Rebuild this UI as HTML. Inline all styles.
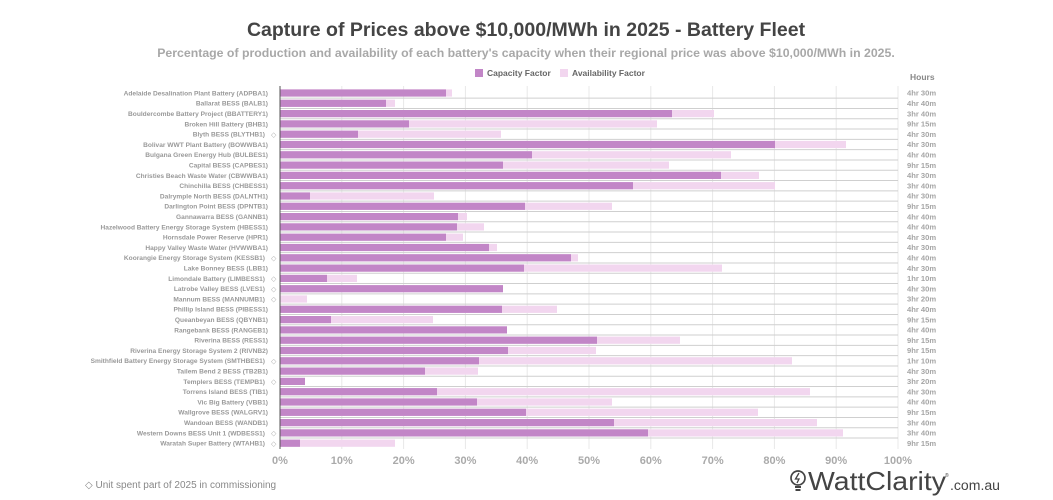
<!DOCTYPE html>
<html><head><meta charset="utf-8"><style>
body{margin:0;background:#fff;}
svg{display:block;font-family:"Liberation Sans",sans-serif;}
.l{font-size:6.6px;fill:#999;font-weight:bold;text-anchor:end}
.h{font-size:7.6px;fill:#a5a5a5;font-weight:bold}
.cf{fill:#c286c7}.af{fill:#f2d6ef}
.sep{stroke:#cfcfcf;stroke-width:1}
.d{font-size:7px;fill:#aaa}
</style></head><body>
<svg width="1053" height="500" viewBox="0 0 1053 500">
<text x="526" y="36" text-anchor="middle" font-size="19.5" font-weight="bold" fill="#444">Capture of Prices above $10,000/MWh in 2025 - Battery Fleet</text>
<text x="526" y="57" text-anchor="middle" font-size="12.3" font-weight="bold" fill="#a8a8a8">Percentage of production and availability of each battery's capacity when their regional price was above $10,000/MWh in 2025.</text>
<rect x="475" y="69" width="8" height="8" class="cf"/><text x="487" y="76" font-size="8.5" font-weight="bold" fill="#666">Capacity Factor</text>
<rect x="560" y="69" width="8" height="8" class="af"/><text x="572" y="76" font-size="8.5" font-weight="bold" fill="#666">Availability Factor</text>
<text x="910" y="80" font-size="8.5" font-weight="bold" fill="#888">Hours</text>
<g stroke="#e8e8e8" stroke-width="1">
<line x1="341.8" y1="86" x2="341.8" y2="449"/><line x1="403.6" y1="86" x2="403.6" y2="449"/><line x1="465.4" y1="86" x2="465.4" y2="449"/><line x1="527.2" y1="86" x2="527.2" y2="449"/><line x1="589" y1="86" x2="589" y2="449"/><line x1="650.8" y1="86" x2="650.8" y2="449"/><line x1="712.6" y1="86" x2="712.6" y2="449"/><line x1="774.4" y1="86" x2="774.4" y2="449"/><line x1="836.2" y1="86" x2="836.2" y2="449"/><line x1="898" y1="86" x2="898" y2="449"/>
</g>
<g id="rows">
<g transform="translate(0,93)"><rect x="280" y="-3.6" width="172" height="7.2" class="af"/><rect x="280" y="-3.6" width="166" height="7.2" class="cf"/><line x1="280" y1="5.15" x2="898" y2="5.15" class="sep"/><text x="268" y="2.4" class="l">Adelaide Desalination Plant Battery (ADPBA1)</text><text x="907" y="2.7" class="h">4hr 30m</text></g>
<g transform="translate(0,103.3)"><rect x="280" y="-3.6" width="115" height="7.2" class="af"/><rect x="280" y="-3.6" width="106" height="7.2" class="cf"/><line x1="280" y1="5.15" x2="898" y2="5.15" class="sep"/><text x="268" y="2.4" class="l">Ballarat BESS (BALB1)</text><text x="907" y="2.7" class="h">4hr 40m</text></g>
<g transform="translate(0,113.6)"><rect x="280" y="-3.6" width="434" height="7.2" class="af"/><rect x="280" y="-3.6" width="392" height="7.2" class="cf"/><line x1="280" y1="5.15" x2="898" y2="5.15" class="sep"/><text x="268" y="2.4" class="l">Bouldercombe Battery Project (BBATTERY1)</text><text x="907" y="2.7" class="h">3hr 40m</text></g>
<g transform="translate(0,123.9)"><rect x="280" y="-3.6" width="377" height="7.2" class="af"/><rect x="280" y="-3.6" width="129" height="7.2" class="cf"/><line x1="280" y1="5.15" x2="898" y2="5.15" class="sep"/><text x="268" y="2.4" class="l">Broken Hill Battery (BHB1)</text><text x="907" y="2.7" class="h">9hr 15m</text></g>
<g transform="translate(0,134.2)"><rect x="280" y="-3.6" width="221" height="7.2" class="af"/><rect x="280" y="-3.6" width="78" height="7.2" class="cf"/><line x1="280" y1="5.15" x2="898" y2="5.15" class="sep"/><text x="265" y="2.4" class="l">Blyth BESS (BLYTHB1)</text><text x="271" y="2.6" class="d">◇</text><text x="907" y="2.7" class="h">4hr 30m</text></g>
<g transform="translate(0,144.5)"><rect x="280" y="-3.6" width="566" height="7.2" class="af"/><rect x="280" y="-3.6" width="495" height="7.2" class="cf"/><line x1="280" y1="5.15" x2="898" y2="5.15" class="sep"/><text x="268" y="2.4" class="l">Bolivar WWT Plant Battery (BOWWBA1)</text><text x="907" y="2.7" class="h">4hr 30m</text></g>
<g transform="translate(0,154.8)"><rect x="280" y="-3.6" width="451" height="7.2" class="af"/><rect x="280" y="-3.6" width="252" height="7.2" class="cf"/><line x1="280" y1="5.15" x2="898" y2="5.15" class="sep"/><text x="268" y="2.4" class="l">Bulgana Green Energy Hub (BULBES1)</text><text x="907" y="2.7" class="h">4hr 40m</text></g>
<g transform="translate(0,165.1)"><rect x="280" y="-3.6" width="389" height="7.2" class="af"/><rect x="280" y="-3.6" width="223" height="7.2" class="cf"/><line x1="280" y1="5.15" x2="898" y2="5.15" class="sep"/><text x="268" y="2.4" class="l">Capital BESS (CAPBES1)</text><text x="907" y="2.7" class="h">9hr 15m</text></g>
<g transform="translate(0,175.4)"><rect x="280" y="-3.6" width="479" height="7.2" class="af"/><rect x="280" y="-3.6" width="441" height="7.2" class="cf"/><line x1="280" y1="5.15" x2="898" y2="5.15" class="sep"/><text x="268" y="2.4" class="l">Christies Beach Waste Water (CBWWBA1)</text><text x="907" y="2.7" class="h">4hr 30m</text></g>
<g transform="translate(0,185.7)"><rect x="280" y="-3.6" width="495" height="7.2" class="af"/><rect x="280" y="-3.6" width="353" height="7.2" class="cf"/><line x1="280" y1="5.15" x2="898" y2="5.15" class="sep"/><text x="268" y="2.4" class="l">Chinchilla BESS (CHBESS1)</text><text x="907" y="2.7" class="h">3hr 40m</text></g>
<g transform="translate(0,196)"><rect x="280" y="-3.6" width="154" height="7.2" class="af"/><rect x="280" y="-3.6" width="30" height="7.2" class="cf"/><line x1="280" y1="5.15" x2="898" y2="5.15" class="sep"/><text x="268" y="2.4" class="l">Dalrymple North BESS (DALNTH1)</text><text x="907" y="2.7" class="h">4hr 30m</text></g>
<g transform="translate(0,206.3)"><rect x="280" y="-3.6" width="332" height="7.2" class="af"/><rect x="280" y="-3.6" width="245" height="7.2" class="cf"/><line x1="280" y1="5.15" x2="898" y2="5.15" class="sep"/><text x="268" y="2.4" class="l">Darlington Point BESS (DPNTB1)</text><text x="907" y="2.7" class="h">9hr 15m</text></g>
<g transform="translate(0,216.6)"><rect x="280" y="-3.6" width="187" height="7.2" class="af"/><rect x="280" y="-3.6" width="178" height="7.2" class="cf"/><line x1="280" y1="5.15" x2="898" y2="5.15" class="sep"/><text x="268" y="2.4" class="l">Gannawarra BESS (GANNB1)</text><text x="907" y="2.7" class="h">4hr 40m</text></g>
<g transform="translate(0,226.9)"><rect x="280" y="-3.6" width="204" height="7.2" class="af"/><rect x="280" y="-3.6" width="177" height="7.2" class="cf"/><line x1="280" y1="5.15" x2="898" y2="5.15" class="sep"/><text x="268" y="2.4" class="l">Hazelwood Battery Energy Storage System (HBESS1)</text><text x="907" y="2.7" class="h">4hr 40m</text></g>
<g transform="translate(0,237.2)"><rect x="280" y="-3.6" width="183" height="7.2" class="af"/><rect x="280" y="-3.6" width="166" height="7.2" class="cf"/><line x1="280" y1="5.15" x2="898" y2="5.15" class="sep"/><text x="268" y="2.4" class="l">Hornsdale Power Reserve (HPR1)</text><text x="907" y="2.7" class="h">4hr 30m</text></g>
<g transform="translate(0,247.5)"><rect x="280" y="-3.6" width="217" height="7.2" class="af"/><rect x="280" y="-3.6" width="209" height="7.2" class="cf"/><line x1="280" y1="5.15" x2="898" y2="5.15" class="sep"/><text x="268" y="2.4" class="l">Happy Valley Waste Water (HVWWBA1)</text><text x="907" y="2.7" class="h">4hr 30m</text></g>
<g transform="translate(0,257.8)"><rect x="280" y="-3.6" width="298" height="7.2" class="af"/><rect x="280" y="-3.6" width="291" height="7.2" class="cf"/><line x1="280" y1="5.15" x2="898" y2="5.15" class="sep"/><text x="265" y="2.4" class="l">Koorangie Energy Storage System (KESSB1)</text><text x="271" y="2.6" class="d">◇</text><text x="907" y="2.7" class="h">4hr 40m</text></g>
<g transform="translate(0,268.1)"><rect x="280" y="-3.6" width="442" height="7.2" class="af"/><rect x="280" y="-3.6" width="244" height="7.2" class="cf"/><line x1="280" y1="5.15" x2="898" y2="5.15" class="sep"/><text x="268" y="2.4" class="l">Lake Bonney BESS (LBB1)</text><text x="907" y="2.7" class="h">4hr 30m</text></g>
<g transform="translate(0,278.4)"><rect x="280" y="-3.6" width="77" height="7.2" class="af"/><rect x="280" y="-3.6" width="47" height="7.2" class="cf"/><line x1="280" y1="5.15" x2="898" y2="5.15" class="sep"/><text x="265" y="2.4" class="l">Limondale Battery (LIMBESS1)</text><text x="271" y="2.6" class="d">◇</text><text x="907" y="2.7" class="h">1hr 10m</text></g>
<g transform="translate(0,288.7)"><rect x="280" y="-3.6" width="223" height="7.2" class="cf"/><line x1="280" y1="5.15" x2="898" y2="5.15" class="sep"/><text x="265" y="2.4" class="l">Latrobe Valley BESS (LVES1)</text><text x="271" y="2.6" class="d">◇</text><text x="907" y="2.7" class="h">4hr 30m</text></g>
<g transform="translate(0,299)"><rect x="280" y="-3.6" width="27" height="7.2" class="af"/><line x1="280" y1="5.15" x2="898" y2="5.15" class="sep"/><text x="265" y="2.4" class="l">Mannum BESS (MANNUMB1)</text><text x="271" y="2.6" class="d">◇</text><text x="907" y="2.7" class="h">3hr 20m</text></g>
<g transform="translate(0,309.3)"><rect x="280" y="-3.6" width="277" height="7.2" class="af"/><rect x="280" y="-3.6" width="222" height="7.2" class="cf"/><line x1="280" y1="5.15" x2="898" y2="5.15" class="sep"/><text x="268" y="2.4" class="l">Phillip Island BESS (PIBESS1)</text><text x="907" y="2.7" class="h">4hr 40m</text></g>
<g transform="translate(0,319.6)"><rect x="280" y="-3.6" width="153" height="7.2" class="af"/><rect x="280" y="-3.6" width="51" height="7.2" class="cf"/><line x1="280" y1="5.15" x2="898" y2="5.15" class="sep"/><text x="268" y="2.4" class="l">Queanbeyan BESS (QBYNB1)</text><text x="907" y="2.7" class="h">9hr 15m</text></g>
<g transform="translate(0,329.9)"><rect x="280" y="-3.6" width="227" height="7.2" class="cf"/><line x1="280" y1="5.15" x2="898" y2="5.15" class="sep"/><text x="268" y="2.4" class="l">Rangebank BESS (RANGEB1)</text><text x="907" y="2.7" class="h">4hr 40m</text></g>
<g transform="translate(0,340.2)"><rect x="280" y="-3.6" width="400" height="7.2" class="af"/><rect x="280" y="-3.6" width="317" height="7.2" class="cf"/><line x1="280" y1="5.15" x2="898" y2="5.15" class="sep"/><text x="268" y="2.4" class="l">Riverina BESS (RESS1)</text><text x="907" y="2.7" class="h">9hr 15m</text></g>
<g transform="translate(0,350.5)"><rect x="280" y="-3.6" width="316" height="7.2" class="af"/><rect x="280" y="-3.6" width="228" height="7.2" class="cf"/><line x1="280" y1="5.15" x2="898" y2="5.15" class="sep"/><text x="268" y="2.4" class="l">Riverina Energy Storage System 2 (RIVNB2)</text><text x="907" y="2.7" class="h">9hr 15m</text></g>
<g transform="translate(0,360.8)"><rect x="280" y="-3.6" width="512" height="7.2" class="af"/><rect x="280" y="-3.6" width="199" height="7.2" class="cf"/><line x1="280" y1="5.15" x2="898" y2="5.15" class="sep"/><text x="265" y="2.4" class="l">Smithfield Battery Energy Storage System (SMTHBES1)</text><text x="271" y="2.6" class="d">◇</text><text x="907" y="2.7" class="h">1hr 10m</text></g>
<g transform="translate(0,371.1)"><rect x="280" y="-3.6" width="198" height="7.2" class="af"/><rect x="280" y="-3.6" width="145" height="7.2" class="cf"/><line x1="280" y1="5.15" x2="898" y2="5.15" class="sep"/><text x="268" y="2.4" class="l">Tailem Bend 2 BESS (TB2B1)</text><text x="907" y="2.7" class="h">4hr 30m</text></g>
<g transform="translate(0,381.4)"><rect x="280" y="-3.6" width="25" height="7.2" class="cf"/><line x1="280" y1="5.15" x2="898" y2="5.15" class="sep"/><text x="265" y="2.4" class="l">Templers BESS (TEMPB1)</text><text x="271" y="2.6" class="d">◇</text><text x="907" y="2.7" class="h">3hr 20m</text></g>
<g transform="translate(0,391.7)"><rect x="280" y="-3.6" width="530" height="7.2" class="af"/><rect x="280" y="-3.6" width="157" height="7.2" class="cf"/><line x1="280" y1="5.15" x2="898" y2="5.15" class="sep"/><text x="268" y="2.4" class="l">Torrens Island BESS (TIB1)</text><text x="907" y="2.7" class="h">4hr 30m</text></g>
<g transform="translate(0,402)"><rect x="280" y="-3.6" width="332" height="7.2" class="af"/><rect x="280" y="-3.6" width="197" height="7.2" class="cf"/><line x1="280" y1="5.15" x2="898" y2="5.15" class="sep"/><text x="268" y="2.4" class="l">Vic Big Battery (VBB1)</text><text x="907" y="2.7" class="h">4hr 40m</text></g>
<g transform="translate(0,412.3)"><rect x="280" y="-3.6" width="478" height="7.2" class="af"/><rect x="280" y="-3.6" width="246" height="7.2" class="cf"/><line x1="280" y1="5.15" x2="898" y2="5.15" class="sep"/><text x="268" y="2.4" class="l">Wallgrove BESS (WALGRV1)</text><text x="907" y="2.7" class="h">9hr 15m</text></g>
<g transform="translate(0,422.6)"><rect x="280" y="-3.6" width="537" height="7.2" class="af"/><rect x="280" y="-3.6" width="334" height="7.2" class="cf"/><line x1="280" y1="5.15" x2="898" y2="5.15" class="sep"/><text x="268" y="2.4" class="l">Wandoan BESS (WANDB1)</text><text x="907" y="2.7" class="h">3hr 40m</text></g>
<g transform="translate(0,432.9)"><rect x="280" y="-3.6" width="563" height="7.2" class="af"/><rect x="280" y="-3.6" width="368" height="7.2" class="cf"/><line x1="280" y1="5.15" x2="898" y2="5.15" class="sep"/><text x="265" y="2.4" class="l">Western Downs BESS Unit 1 (WDBESS1)</text><text x="271" y="2.6" class="d">◇</text><text x="907" y="2.7" class="h">3hr 40m</text></g>
<g transform="translate(0,443.2)"><rect x="280" y="-3.6" width="115" height="7.2" class="af"/><rect x="280" y="-3.6" width="20" height="7.2" class="cf"/><text x="265" y="2.4" class="l">Waratah Super Battery (WTAHB1)</text><text x="271" y="2.6" class="d">◇</text><text x="907" y="2.7" class="h">9hr 15m</text></g>
</g>
<line x1="280" y1="86" x2="280" y2="449" stroke="#555" stroke-width="1"/>
<g font-size="11" font-weight="bold" fill="#aaa" text-anchor="middle">
<text x="280" y="464">0%</text><text x="341.8" y="464">10%</text><text x="403.6" y="464">20%</text><text x="465.4" y="464">30%</text><text x="527.2" y="464">40%</text><text x="589" y="464">50%</text><text x="650.8" y="464">60%</text><text x="712.6" y="464">70%</text><text x="774.4" y="464">80%</text><text x="836.2" y="464">90%</text><text x="898" y="464">100%</text>
</g>
<text x="85" y="488" font-size="10" fill="#888">◇ Unit spent part of 2025 in commissioning</text>
<g transform="translate(790,470)">
<circle cx="8" cy="8" r="7" fill="none" stroke="#444" stroke-width="1.7"/>
<path d="M9 3 L5.5 9 L9 9 L7 13" fill="none" stroke="#444" stroke-width="1.3"/>
<rect x="5" y="16" width="6" height="2" fill="#444"/><rect x="5.5" y="19" width="5" height="2" fill="#444"/>
</g>
<text x="808" y="490" font-size="26" fill="#444" textLength="138" lengthAdjust="spacingAndGlyphs">WattClarity</text>
<text x="950" y="490" font-size="13.5" fill="#444" textLength="50" lengthAdjust="spacingAndGlyphs">.com.au</text>
<text x="945" y="477" font-size="5" fill="#444">®</text>
</svg>
</body></html>
